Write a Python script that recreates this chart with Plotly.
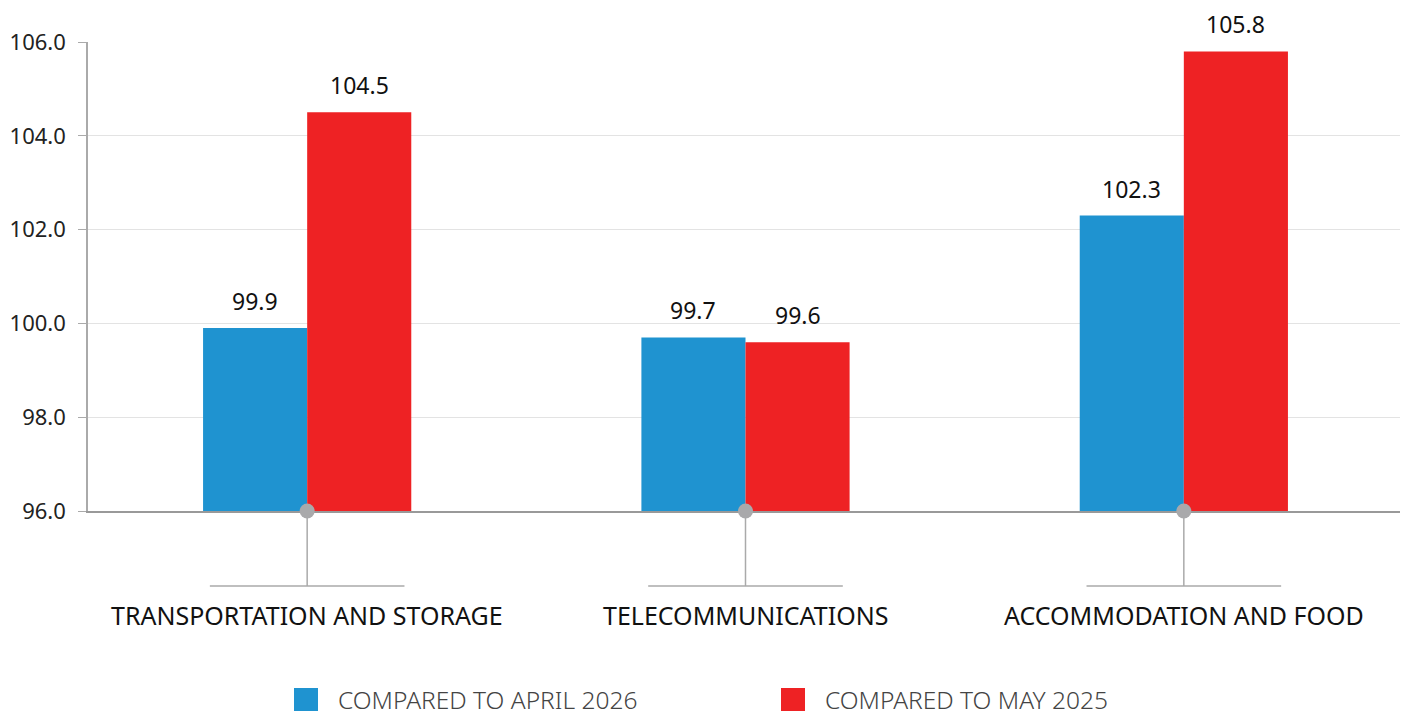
import plotly.graph_objects as go

categories = ["TRANSPORTATION AND STORAGE", "TELECOMMUNICATIONS", "ACCOMMODATION AND FOOD"]
series_names = ["COMPARED TO APRIL 2026", "COMPARED TO MAY 2025"]
vs_april_2026 = [99.9, 99.7, 102.3]
vs_may_2025 = [104.5, 99.6, 105.8]
y_ticks = [96, 98, 100, 102, 104, 106]
y_tick_labels = ["96.0", "98.0", "100.0", "102.0", "104.0", "106.0"]

BLUE = "#1f93d0"
RED = "#ee2224"
FONT = "Noto Sans"
BASE = 96
BARGAP = 0.525

PLOT_W = 1315
PLOT_H = 469

fig = go.Figure()
idx = list(range(len(categories)))
series = [(series_names[0], vs_april_2026, BLUE), (series_names[1], vs_may_2025, RED)]
for name, vals, col in series:
    fig.add_trace(go.Bar(
        x=idx, y=[v - BASE for v in vals], base=BASE, name=name, marker_color=col,
        marker_line_width=0, showlegend=False, hoverinfo="x+y",
    ))

shapes = []
annotations = []
bar_w = (1 - BARGAP) / len(series)
for s, (name, vals, col) in enumerate(series):
    off = (s - (len(series) - 1) / 2) * bar_w
    for i, v in enumerate(vals):
        annotations.append(dict(text=f"{v:.1f}", x=i + off, xref="x", y=v, yref="y",
                                yanchor="bottom", yshift=9, showarrow=False,
                                font=dict(size=23, color="#111111", family=FONT)))

for i, c in enumerate(categories):
    shapes.append(dict(type="line", xref="x", yref="paper", x0=i, x1=i, y0=0, y1=-0.16,
                       line=dict(color="#aaaaaa", width=1.5), layer="below"))
    shapes.append(dict(type="line", xref="x", yref="paper", x0=i - 0.222, x1=i + 0.222, y0=-0.16, y1=-0.16,
                       line=dict(color="#aaaaaa", width=1.5)))
    shapes.append(dict(type="circle", xref="x", yref="paper", xsizemode="pixel", ysizemode="pixel",
                       xanchor=i, yanchor=0, x0=-7.5, x1=7.5, y0=-7.5, y1=7.5,
                       fillcolor="#a9a9ab", line=dict(width=0)))
    annotations.append(dict(text=c, x=i, xref="x", y=-0.222, yref="paper", showarrow=False,
                            yanchor="middle", font=dict(size=25, color="#111111", family=FONT)))

# custom legend (positions relative to plot area: left=88px, bottom=511px in the page)
leg = [(series_names[0], BLUE, 294), (series_names[1], RED, 781)]
for name, col, px in leg:
    shapes.append(dict(type="rect", xref="paper", yref="paper",
                       x0=(px - 88) / PLOT_W, x1=(px + 24 - 88) / PLOT_W,
                       y0=(511 - 711) / PLOT_H, y1=(511 - 688) / PLOT_H,
                       fillcolor=col, line=dict(width=0)))
    annotations.append(dict(text=name, xref="paper", yref="paper", x=(px + 42 - 88) / PLOT_W,
                            xanchor="left", y=(511 - 699) / PLOT_H, yanchor="middle", showarrow=False,
                            font=dict(size=24.5, color="#444444", family=FONT, weight=300)))

# page has 8px body margin: figure is 1400x708 placed at (8,8)
fig.update_layout(
    width=1400, height=708,
    margin=dict(l=80, r=5, t=34, b=205, pad=0),
    plot_bgcolor="white", paper_bgcolor="white",
    barmode="group", bargap=BARGAP, bargroupgap=0,
    font=dict(family=FONT),
    shapes=shapes, annotations=annotations,
    xaxis=dict(range=[-0.5, 2.5], showticklabels=False, showgrid=False, zeroline=False,
               showline=True, linecolor="#999999", linewidth=1.5, ticks="", automargin=False),
    yaxis=dict(range=[96, 106], tickvals=y_ticks, ticktext=y_tick_labels, showgrid=True,
               gridcolor="#e3e3e3", gridwidth=1, zeroline=False, showline=True,
               linecolor="#aaaaaa", linewidth=1.5, ticks="outside", ticklen=8, tickcolor="#aaaaaa",
               ticklabelstandoff=8, automargin=False,
               tickfont=dict(size=22, color="#222222", family=FONT)),
)

fig.write_html("out.html")
